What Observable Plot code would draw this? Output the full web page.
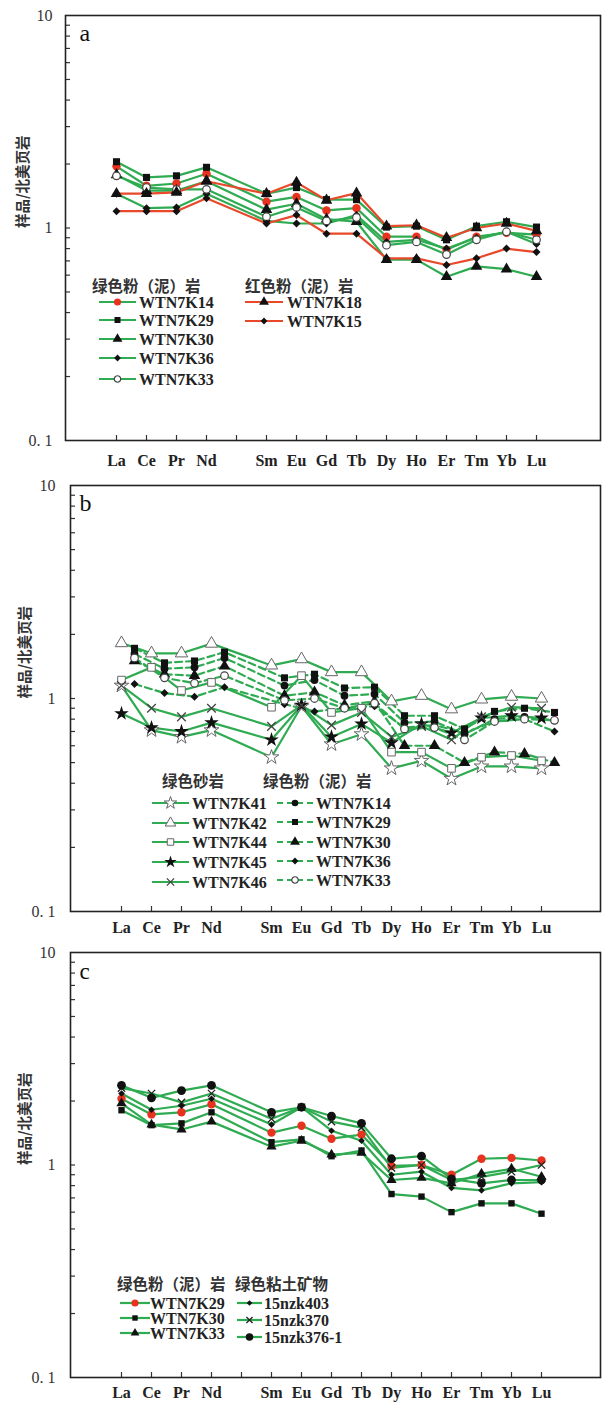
<!DOCTYPE html>
<html><head><meta charset="utf-8">
<script src="https://cdn.jsdelivr.net/npm/d3@7"></script>
<script src="https://cdn.jsdelivr.net/npm/@observablehq/plot@0.6"></script>
<style>
body{margin:0;background:#fff;}
#wrap{position:relative;width:604px;height:1405px;overflow:hidden;background:#fff;}
</style></head><body><div id="wrap"></div>
<script>
// ---------- data ----------
const xDomain = ["La","Ce","Pr","Nd","Pm","Sm","Eu","Gd","Tb","Dy","Ho","Er","Tm","Yb","Lu"];
const ree = ["La","Ce","Pr","Nd","Sm","Eu","Gd","Tb","Dy","Ho","Er","Tm","Yb","Lu"];
const yTickLabels = [0.1, 1, 10];
const yMinorTicks = [0.2,0.3,0.4,0.5,0.6,0.7,0.8,0.9,1,2,3,4,5,6,7,8,9];
const yAxisTitle = "样品/北美页岩";

// panel a
const a_K14 = [1.95,1.58,1.62,1.80, 1.33,1.40,1.21,1.24, 0.91,0.91,0.79,0.91,0.95,0.93];
const a_K29 = [2.05,1.73,1.76,1.93, 1.45,1.55,1.36,1.36, 1.01,1.02,0.88,1.02,1.07,1.01];
const a_K30 = [1.78,1.50,1.50,1.66, 1.22,1.30,1.10,1.07, 0.71,0.71,0.59,0.66,0.64,0.59];
const a_K36 = [1.45,1.24,1.25,1.45, 1.08,1.05,1.05,1.15, 0.86,0.88,0.80,0.90,0.96,0.84];
const a_K33 = [1.76,1.55,1.52,1.52, 1.13,1.25,1.08,1.12, 0.83,0.86,0.75,0.88,0.96,0.88];
const a_K18 = [1.45,1.45,1.47,1.66, 1.45,1.64,1.35,1.46, 1.02,1.03,0.90,1.00,1.05,0.97];
const a_K15 = [1.20,1.20,1.20,1.38, 1.05,1.15,0.94,0.94, 0.72,0.72,0.67,0.72,0.80,0.77];

// panel b (sandstone)
const b_K41 = [1.15,0.71,0.66,0.71, 0.53,0.92,0.61,0.68, 0.47,0.51,0.42,0.48,0.48,0.47];
const b_K42 = [1.82,1.63,1.63,1.81, 1.43,1.53,1.33,1.33, 0.97,1.03,0.89,0.99,1.02,1.00];
const b_K44 = [1.22,1.40,1.09,1.19, 0.91,1.28,0.86,0.90, 0.56,0.56,0.47,0.53,0.54,0.51];
const b_K45 = [0.85,0.73,0.70,0.77, 0.64,0.93,0.66,0.76, 0.62,0.76,0.69,0.81,0.83,0.81];
const b_K46 = [1.15,0.90,0.82,0.90, 0.74,0.93,0.75,0.86, 0.66,0.74,0.64,0.82,0.91,0.90];
// panel b (siltstone)
const b_K14 = [1.62,1.38,1.40,1.55, 1.15,1.22,1.03,1.05, 0.77,0.78,0.68,0.80,0.82,0.79];
const b_K29 = [1.72,1.47,1.50,1.65, 1.25,1.30,1.12,1.13, 0.83,0.83,0.72,0.87,0.90,0.86];
const b_K30 = [1.50,1.30,1.28,1.42, 1.03,1.07,0.93,0.97, 0.60,0.60,0.50,0.56,0.55,0.50];
const b_K36 = [1.17,1.06,1.02,1.13, 0.94,0.87,0.90,0.92, 0.73,0.75,0.69,0.78,0.80,0.70];
const b_K33 = [1.55,1.25,1.18,1.28, 0.98,1.00,0.90,0.95, 0.72,0.73,0.64,0.78,0.80,0.79];

// panel c
const c_K29  = [2.05,1.73,1.77,1.93, 1.42,1.53,1.33,1.39, 0.99,1.00,0.90,1.07,1.08,1.05];
const c_K30  = [1.81,1.54,1.57,1.77, 1.28,1.32,1.10,1.17, 0.73,0.71,0.60,0.66,0.66,0.59];
const c_K33  = [1.95,1.55,1.47,1.60, 1.22,1.30,1.12,1.14, 0.85,0.87,0.82,0.91,0.96,0.88];
const c_403  = [2.17,1.82,1.90,2.05, 1.55,1.87,1.45,1.30, 0.90,0.93,0.78,0.76,0.82,0.83];
const c_370  = [2.30,2.17,1.97,2.17, 1.65,1.87,1.60,1.50, 0.97,1.00,0.85,0.88,0.93,1.00];
const c_3761 = [2.37,2.07,2.24,2.37, 1.77,1.87,1.70,1.57, 1.07,1.10,0.86,0.82,0.85,0.85];

// ---------- styles ----------
const GREEN = "#2fab52", RED = "#e8492b", REDFILL = "#e8321f";
const S = {
  redDot:   {symbol:"circle", r:4.2, fill:REDFILL, stroke:"none"},
  sq:       {symbol:"square", r:4, fill:"#111", stroke:"none"},
  tri:      {symbol:"triangle", r:4.3, fill:"#111", stroke:"none"},
  dia:      {symbol:"diamond2", r:3.6, fill:"#111", stroke:"none"},
  ocirc:    {symbol:"circle", r:3.8, fill:"white", stroke:"#444", sw:1.2},
  bdot:     {symbol:"circle", r:3.9, fill:"#111", stroke:"none"},
  ostar:    {symbol:"star", r:4.6, fill:"white", stroke:"#666", sw:1},
  otri:     {symbol:"triangle", r:4.6, fill:"white", stroke:"#666", sw:1},
  osq:      {symbol:"square", r:4.3, fill:"white", stroke:"#666", sw:1},
  star:     {symbol:"star", r:4.6, fill:"#111", stroke:"none"},
  times:    {symbol:"times", r:4, fill:"none", stroke:"#444", sw:1.3},
  sdia:     {symbol:"diamond2", r:3, fill:"#111", stroke:"none"},
  stimes:   {symbol:"times", r:3.4, fill:"none", stroke:"#222", sw:1.3},
  bigdot:   {symbol:"circle", r:4.4, fill:"#111", stroke:"none"},
  csq:      {symbol:"square", r:3.6, fill:"#111", stroke:"none"},
  ctri:     {symbol:"triangle", r:3.8, fill:"#111", stroke:"none"}
};

const seriesA = [
  {name:"WTN7K14", values:a_K14, color:GREEN, m:S.redDot},
  {name:"WTN7K29", values:a_K29, color:GREEN, m:S.sq},
  {name:"WTN7K30", values:a_K30, color:GREEN, m:S.tri},
  {name:"WTN7K36", values:a_K36, color:GREEN, m:S.dia},
  {name:"WTN7K33", values:a_K33, color:GREEN, m:S.ocirc},
  {name:"WTN7K18", values:a_K18, color:RED, m:S.tri},
  {name:"WTN7K15", values:a_K15, color:RED, m:S.dia}
];
const seriesB = [
  {name:"WTN7K41", values:b_K41, color:GREEN, m:S.ostar},
  {name:"WTN7K42", values:b_K42, color:GREEN, m:S.otri},
  {name:"WTN7K44", values:b_K44, color:GREEN, m:S.osq},
  {name:"WTN7K45", values:b_K45, color:GREEN, m:S.star},
  {name:"WTN7K46", values:b_K46, color:GREEN, m:S.times},
  {name:"WTN7K14", values:b_K14, color:GREEN, m:S.bdot, dash:"7,4", dx:13},
  {name:"WTN7K29", values:b_K29, color:GREEN, m:S.sq, dash:"7,4", dx:13},
  {name:"WTN7K30", values:b_K30, color:GREEN, m:S.tri, dash:"7,4", dx:13},
  {name:"WTN7K36", values:b_K36, color:GREEN, m:S.dia, dash:"7,4", dx:13},
  {name:"WTN7K33", values:b_K33, color:GREEN, m:S.ocirc, dash:"7,4", dx:13}
];
const seriesC = [
  {name:"WTN7K29", values:c_K29, color:GREEN, m:S.redDot},
  {name:"WTN7K30", values:c_K30, color:GREEN, m:S.csq},
  {name:"WTN7K33", values:c_K33, color:GREEN, m:S.ctri},
  {name:"15nzk403", values:c_403, color:GREEN, m:S.sdia},
  {name:"15nzk370", values:c_370, color:GREEN, m:S.stimes},
  {name:"15nzk376-1", values:c_3761, color:GREEN, m:S.bigdot}
];

// ---------- panels ----------
function makePanel(cfg) {
  const {series, top, height, mt, mb, ml, mr, xRange, letter, letterSize, letterDx, letterDy, yLabelDx, yTickPad, xTickPad} = cfg;
  const width = 604;
  const plotH = height - mt - mb, plotW = width - ml - mr;
  const marks = [
    Plot.tickY(yMinorTicks, {y: d => d, insetRight: plotW - 5, stroke: "#333", strokeWidth: 1.2}),
    Plot.tickX(xDomain, {x: d => d, insetTop: plotH - 5, stroke: "#333", strokeWidth: 1.2})
  ];
  const rowsOf = s => ree.map((el, i) => ({el, v: s.values[i]}));
  const ordered = [...series.filter(s => s.color !== RED), ...series.filter(s => s.color === RED)];
  for (const s of ordered) {
    marks.push(Plot.line(rowsOf(s), {x: "el", y: "v", stroke: s.color, strokeWidth: 2.2,
      strokeDasharray: s.dash || null, dx: s.dx || 0, strokeLinejoin: "round"}));
  }
  for (const s of ordered) {
    marks.push(Plot.dot(rowsOf(s), {x: "el", y: "v", symbol: s.m.symbol, r: s.m.r, fill: s.m.fill,
      stroke: s.m.stroke, strokeWidth: s.m.sw || 1, dx: s.dx || 0}));
  }
  marks.push(Plot.frame({stroke: "#222", strokeWidth: 1.6}));
  marks.push(Plot.axisX({label: null, tickSize: 0, tickPadding: xTickPad,
    tickFormat: d => d === "Pm" ? "" : d, fontSize: 16, fontWeight: "bold", fill: "#222"}));
  marks.push(Plot.axisY({label: null, ticks: yTickLabels, tickSize: 0, tickPadding: yTickPad,
    tickFormat: d => d === 0.1 ? "0. 1" : String(d), fontSize: 16, fill: "#333"}));
  marks.push(Plot.text([yAxisTitle], {text: d => d, frameAnchor: "left", rotate: -90, dx: yLabelDx,
    fontFamily: "Noto Sans CJK SC", fontSize: 14.5, fontWeight: "bold", fill: "#333"}));
  marks.push(Plot.text([letter], {text: d => d, frameAnchor: "top-left", dx: letterDx, dy: letterDy,
    fontSize: letterSize, fill: "#111"}));
  const svg = Plot.plot({
    width, height, marginTop: mt, marginBottom: mb, marginLeft: ml, marginRight: mr,
    x: {type: "point", domain: xDomain, range: xRange},
    y: {type: "log", domain: [0.1, 10]},
    style: {fontFamily: "Liberation Serif, serif", background: "transparent", overflow: "visible"},
    marks
  });
  svg.style.position = "absolute";
  svg.style.left = "0px";
  svg.style.top = top + "px";
  document.getElementById("wrap").appendChild(svg);
}

makePanel({series: seriesA, top: 0, height: 470, mt: 15, mb: 30, ml: 65, mr: 4, xRange: [99, 552],
  letter: "a", letterSize: 24, letterDx: 14, letterDy: 8, yLabelDx: -42, yTickPad: 13, xTickPad: 14});
makePanel({series: seriesB, top: 470, height: 467, mt: 15, mb: 26, ml: 70, mr: 4, xRange: [103, 558],
  letter: "b", letterSize: 24, letterDx: 9, letterDy: 8, yLabelDx: -45, yTickPad: 15, xTickPad: 10});
makePanel({series: seriesC, top: 937, height: 468, mt: 15, mb: 28, ml: 70, mr: 4, xRange: [102, 559],
  letter: "c", letterSize: 23, letterDx: 9, letterDy: 10, yLabelDx: -45, yTickPad: 15, xTickPad: 9});

// ---------- legends (overlay) ----------
const symMap = {circle: d3.symbolCircle, square: d3.symbolSquare, triangle: d3.symbolTriangle,
  diamond2: d3.symbolDiamond2, star: d3.symbolStar, times: d3.symbolTimes};
const ov = d3.select("#wrap").append("svg").attr("width", 604).attr("height", 1405)
  .style("position", "absolute").style("left", 0).style("top", 0);

function legendColumn(col) {
  ov.append("text").attr("x", col.titleX).attr("y", col.titleY).attr("dy", "0.35em")
    .attr("font-family", "Noto Sans CJK SC").attr("font-size", 15.5).attr("font-weight", "bold")
    .attr("fill", "#333").text(col.title);
  col.items.forEach((it, i) => {
    const s = it.s, y = col.ys[i];
    ov.append("line").attr("x1", col.x1).attr("x2", col.x2).attr("y1", y).attr("y2", y)
      .attr("stroke", s.color).attr("stroke-width", 2.2).attr("stroke-dasharray", s.dash ? "6,4" : null);
    const cx = (col.x1 + col.x2) / 2;
    const rr = s.m.r * 0.85;
    ov.append("path").attr("transform", `translate(${cx},${y})`)
      .attr("d", d3.symbol(symMap[s.m.symbol], Math.PI * rr * rr)())
      .attr("fill", s.m.fill).attr("stroke", s.m.stroke).attr("stroke-width", s.m.sw || 1);
    ov.append("text").attr("x", col.textX).attr("y", y).attr("dy", "0.35em")
      .attr("font-family", "Liberation Serif, serif").attr("font-size", 16).attr("font-weight", "bold")
      .attr("fill", "#222").text(s.name);
  });
}

legendColumn({title: "绿色粉（泥）岩", titleX: 92, titleY: 287, x1: 99, x2: 136, textX: 139,
  ys: [302, 320, 339, 358, 379], items: seriesA.slice(0, 5).map(s => ({s}))});
legendColumn({title: "红色粉（泥）岩", titleX: 245, titleY: 287, x1: 245, x2: 283, textX: 287,
  ys: [302, 321], items: seriesA.slice(5).map(s => ({s}))});
legendColumn({title: "绿色砂岩", titleX: 162, titleY: 782, x1: 152, x2: 189, textX: 192,
  ys: [803, 823, 842, 862, 882], items: seriesB.slice(0, 5).map(s => ({s}))});
legendColumn({title: "绿色粉（泥）岩", titleX: 263, titleY: 782, x1: 277, x2: 313, textX: 316,
  ys: [803, 822, 842, 861, 880], items: seriesB.slice(5).map(s => ({s}))});
legendColumn({title: "绿色粉（泥）岩", titleX: 117, titleY: 1285, x1: 120, x2: 150, textX: 150,
  ys: [1303, 1318, 1333], items: seriesC.slice(0, 3).map(s => ({s}))});
legendColumn({title: "绿色粘土矿物", titleX: 235, titleY: 1285, x1: 237, x2: 262, textX: 264,
  ys: [1303, 1320, 1337], items: seriesC.slice(3).map(s => ({s}))});
</script>
</body></html>
